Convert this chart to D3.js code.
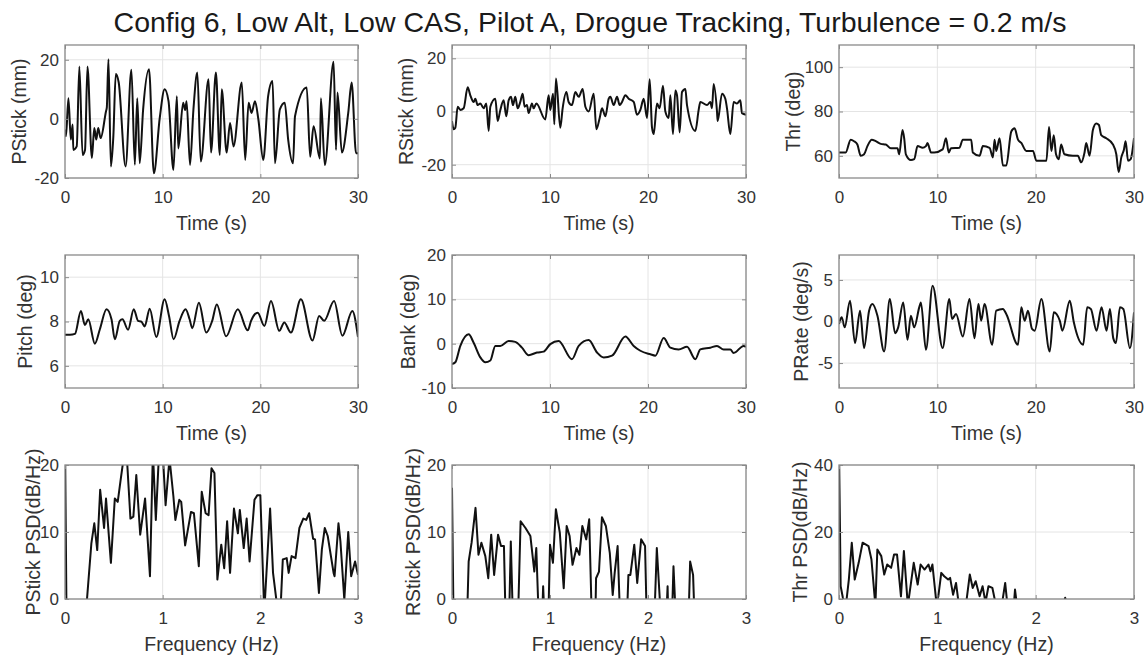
<!DOCTYPE html>
<html>
<head>
<meta charset="utf-8">
<script src="https://cdn.jsdelivr.net/npm/d3@7"></script>
<style>body{margin:0;background:#fff}</style>
</head>
<body>
<svg id="chart"></svg>
<script>
// ---- data ----
var title = "Config 6, Low Alt, Low CAS, Pilot A, Drogue Tracking, Turbulence = 0.2 m/s";

var timeTicks = [0, 10, 20, 30];
var freqTicks = [0, 1, 2, 3];

var pstickT = [0,0.1,0.35,0.6,0.78,0.85,1.2,1.47,1.8,2.05,2.3,2.75,3.0,3.2,3.4,3.65,4.2,4.28,4.45,4.7,4.95,5.2,5.5,6.2,6.8,7.15,7.4,7.65,8.0,8.6,9.1,9.7,10.2,10.6,11.1,11.45,11.6,12.1,12.3,12.45,12.8,13.15,13.55,13.9,14.7,14.95,15.45,15.85,16.05,16.55,16.9,17.25,18.1,18.45,18.8,19.1,19.45,19.8,20.3,20.8,21.25,21.5,22.0,22.5,22.85,23.35,23.55,24.75,25.1,25.45,26.1,26.2,26.6,27.5,27.75,27.9,28.35,29.0,29.35,29.8,30];
var pstickV = [-3.6,-5.9,7.0,-7.0,-1.9,-10.5,-9.3,17.7,-12.2,-10.5,17.7,-13.2,-3.1,-7.0,-3.1,-6.5,2.6,3.8,20.2,-16.1,-5.9,15.2,12.3,-16.1,16.6,-15.5,7.0,-15.0,3.2,16.8,-18.4,0.3,10.0,6.0,-17.3,7.7,-10.0,5.5,3.0,6.0,-15.6,3.2,15.7,-14.4,13.4,-11.4,15.7,-12.2,10.0,-11.4,-1.4,-9.3,12.3,-13.9,5.5,2.0,6.0,-0.2,-13.9,7.7,12.8,-15.0,3.2,5.5,-7.0,-15.0,0.9,10.6,-12.8,-2.5,-13.4,7.0,-15.6,19.3,-10.5,8.9,-11.4,2.0,12.3,-11.6,-11.6];

var rstickT = [0,0.17,0.34,0.58,0.85,1.19,1.6,1.87,2.21,2.38,2.62,2.89,3.23,3.5,3.74,3.91,4.42,4.66,4.93,5.27,5.54,5.78,6.02,6.22,6.46,6.7,6.97,7.21,7.41,7.65,7.82,8.16,8.33,8.61,9.52,9.86,10.03,10.31,10.44,10.61,11.05,11.29,11.67,11.9,12.24,12.59,12.93,13.33,13.61,13.95,14.46,14.73,15.07,15.31,15.65,15.99,16.16,16.5,16.84,17.11,17.35,17.69,18.03,18.54,18.88,19.22,19.56,19.9,20.17,20.41,20.58,20.92,21.19,21.53,21.77,22.11,22.28,22.55,22.79,22.96,23.23,23.47,23.81,23.98,24.83,25.17,25.34,26.02,26.36,26.53,26.7,27.04,27.11,27.55,27.89,28.06,28.4,28.74,29.08,29.42,29.59,30];
var rstickV = [-3.6,-6.7,-6.1,1.8,0.6,1.2,9.1,6.1,3.6,4.8,2.4,3.0,1.2,3.0,-7.3,1.8,4.8,-3.6,0.6,4.2,-1.8,4.2,5.5,2.4,5.5,1.2,3.6,6.7,1.8,2.4,-0.6,3.0,1.2,3.0,-3.0,6.1,0.6,6.7,-4.8,12.4,-6.1,1.2,7.3,3.6,2.4,7.3,5.5,8.5,1.8,0,6.7,-6.7,-2.4,1.2,-1.8,4.8,5.5,2.4,5.5,2.4,3.6,6.1,4.8,3.6,-1.2,0.6,4.8,-2.4,12.1,-6.1,-8.5,3.0,1.2,9.7,0,-2.4,6.1,-8.5,7.9,6.1,-7.9,7.3,8.5,2.4,-7.3,0.6,3.6,2.4,3.6,1.2,10.3,0,-3.6,6.7,4.8,1.2,-8.5,3.6,3.0,4.2,-0.6,-1.2];

var thrT = [0,0.68,1.19,1.53,1.87,2.21,2.55,2.89,3.33,3.74,4.25,4.76,5.27,5.95,6.12,6.46,6.63,6.8,7.31,7.65,7.99,8.5,8.84,9.01,9.18,9.35,9.69,10.54,10.88,11.16,11.39,12.24,12.59,13.44,13.61,14.29,14.63,15.31,15.65,15.82,15.99,16.33,16.67,17.01,17.52,17.86,18.2,18.54,19.05,19.73,20.07,21.09,21.36,21.6,21.84,22.07,22.35,22.59,22.93,23.78,24.29,24.63,24.97,25.14,25.48,25.82,26.16,26.43,26.67,27.18,27.86,28.2,28.44,28.71,28.98,29.15,29.39,29.66,30];
var thrV = [61.5,61.5,67.3,66.6,65.1,60.0,60.7,64.4,67.3,66.6,65.4,65.1,63.4,63.4,60.7,71.7,67.9,60.7,58.1,58.5,64.4,63.6,64.4,65.8,63.6,61.5,61.5,62.9,67.9,61.5,63.4,63.6,67.3,67.3,61.5,60.0,64.4,63.6,59.3,67.3,62.2,67.9,55.6,55.6,71.0,72.4,67.3,65.8,62.2,62.2,57.8,57.8,73.0,62.2,69.3,60.7,58.5,65.1,60.7,60.0,60.0,57.1,61.5,65.8,60.0,71.7,74.6,73.9,69.3,67.9,65.1,60.7,52.7,59.3,62.9,66.6,57.8,58.5,68.0];

var pitchT = [0,0.51,1.02,1.63,2.04,2.38,3.06,3.57,4.25,4.76,5.1,5.61,5.88,6.46,7.04,7.48,7.82,8.16,8.67,9.35,10.2,10.65,11.12,11.73,12.35,12.76,13.03,13.71,14.46,15.07,15.54,16.5,17.69,18.71,19.05,19.73,20.41,21.09,21.94,22.45,23.13,24.15,25.34,26.02,26.53,27.55,28.4,29.42,30];
var pitchV = [7.4,7.4,7.44,8.47,7.84,8.1,7.0,7.65,8.55,8.1,7.2,8.03,8.1,7.63,8.55,8.03,7.99,7.78,8.58,7.3,9.0,8.25,7.2,8.03,8.55,8.1,7.7,8.85,7.5,8.03,8.77,7.33,8.55,7.6,8.03,8.4,7.8,8.92,7.58,7.96,7.5,9.0,7.14,8.25,8.03,8.92,7.36,8.47,7.3];

var bankT = [0,0.34,0.85,1.7,2.21,2.89,3.4,3.91,4.42,4.93,5.78,6.46,7.14,7.82,8.67,9.35,10.03,10.88,12.24,12.93,13.95,14.8,15.48,16.33,17.69,18.54,19.22,20.24,20.75,21.6,22.28,23.13,23.98,24.83,25.34,26.36,27.04,27.72,28.4,28.74,29.76,30];
var bankV = [-4.6,-4.2,-0.5,2.1,0.2,-3.1,-4.2,-3.8,-0.5,-0.5,0.6,0.4,-0.9,-2.6,-2.0,-1.8,-0.1,0.6,-3.5,-0.5,0.8,-2.0,-3.1,-2.7,1.6,-0.5,-1.6,-2.4,-2.7,1.3,-0.9,-1.3,-0.7,-3.5,-1.3,-0.9,-0.5,-1.3,-1.3,-2.1,-0.5,-0.7];

var prateT = [0,0.27,0.58,1.12,1.63,2.14,2.55,3.06,3.4,3.91,4.59,5.17,5.71,6.02,6.53,6.97,7.31,7.65,8.16,8.33,8.84,9.52,10.54,11.22,11.5,11.9,12.59,13.27,13.78,14.18,14.46,14.8,15.58,15.99,16.67,17.01,18.2,18.54,18.88,19.22,19.63,19.9,20.58,21.43,21.84,22.45,22.72,23.47,23.88,24.83,25.24,25.61,26.19,26.7,27.21,27.55,27.89,28.16,28.57,28.91,29.59,30];
var prateV = [-0.3,0.5,-0.7,2.5,-2.6,1.3,-3.2,1.3,2.1,0.7,-3.6,2.7,-1.4,-0.7,2.3,-2.2,0.7,-0.7,1.7,2.3,-3.4,4.3,-3.2,2.7,0.3,0.9,-1.8,2.7,-2.0,2.1,0.1,2.1,-2.8,1.3,1.5,0.9,-2.8,1.7,0.1,1.3,-0.9,-1.1,2.7,-3.6,1.1,0.1,-1.1,2.5,-0.1,-2.8,1.7,1.5,-1.1,1.7,-1.1,1.5,-2.0,-2.6,1.7,1.5,-3.2,1.1];

var psdPstickF = [0,0.017,0.22,0.27,0.3,0.33,0.36,0.4,0.42,0.47,0.51,0.54,0.57,0.6,0.63,0.67,0.7,0.73,0.77,0.82,0.87,0.9,0.93,0.96,1.0,1.03,1.07,1.11,1.13,1.17,1.19,1.23,1.29,1.32,1.37,1.4,1.44,1.47,1.5,1.53,1.56,1.6,1.63,1.66,1.69,1.73,1.77,1.79,1.83,1.86,1.89,1.94,1.97,2.0,2.04,2.1,2.13,2.18,2.21,2.23,2.27,2.29,2.32,2.36,2.4,2.44,2.47,2.5,2.54,2.56,2.6,2.63,2.66,2.69,2.75,2.76,2.8,2.82,2.86,2.9,2.93,2.97,3.0];
var psdPstickV = [24,-5,-1,8.3,11.3,7.3,16.3,10.6,15.0,5.4,15.0,14.5,17.8,21,22,12.0,12.3,18.5,9.6,15.0,3.4,22,11.8,21,22,14.0,21,15.3,11.8,14.8,14.5,8.0,13.0,12.8,4.9,16.0,12.8,12.5,19.5,18.8,2.9,8.1,4.6,11.6,3.9,13.5,9.8,13.3,7.6,12.0,5.6,14.8,15.5,15.5,-2,13.5,3.9,-2,-0.5,5.9,6.1,3.9,6.4,6.1,10.6,12.0,11.8,12.8,9.0,8.9,0.9,7.4,10.6,9.4,3.9,3.4,11.3,8.6,-0.1,10.0,3.4,5.6,3.6];

var psdRstickF = [0,0.017,0.15,0.17,0.2,0.24,0.27,0.3,0.34,0.37,0.4,0.43,0.47,0.5,0.53,0.55,0.58,0.6,0.625,0.67,0.7,0.75,0.8,0.84,0.86,0.89,0.915,0.93,0.95,0.98,1.0,1.03,1.06,1.1,1.14,1.17,1.2,1.23,1.27,1.3,1.33,1.37,1.4,1.43,1.46,1.47,1.5,1.53,1.57,1.61,1.64,1.66,1.69,1.72,1.78,1.8,1.82,1.86,1.89,1.93,1.97,1.99,2.06,2.09,2.14,2.18,2.2,2.21,2.24,2.26,2.29,2.41,2.43,2.46,2.48,3.0];
var psdRstickV = [16.6,-5,-5,5.6,8.4,13.6,6.6,8.4,6.4,3.1,9.6,3.6,9.6,7.9,7.9,-5,-5,8.6,-5,-5,11.6,10.6,9.4,4.1,7.6,-5,-5,1.9,-5,-5,8.1,5.4,13.4,9.9,1.6,10.9,9.4,5.1,7.6,6.6,10.9,8.9,11.9,-5,-5,3.1,4.1,12.2,10.9,6.9,0.6,3.9,7.9,-5,-5,3.6,3.6,8.1,2.4,8.9,7.9,-5,-5,7.6,-5,-5,1.9,-5,-5,4.9,-5,-5,5.6,3.6,-5,-5];

var psdThrF = [0,0.017,0.04,0.07,0.1,0.13,0.16,0.2,0.24,0.27,0.3,0.33,0.37,0.39,0.43,0.46,0.49,0.53,0.56,0.59,0.63,0.66,0.7,0.76,0.8,0.83,0.87,0.91,0.93,0.95,0.99,1.01,1.04,1.07,1.11,1.13,1.16,1.19,1.22,1.29,1.33,1.36,1.39,1.43,1.46,1.49,1.52,1.56,1.59,1.66,1.69,1.71,1.78,1.79,1.81,2.28,2.3,2.32,3.0];
var psdThrV = [45,3.8,0.3,-2,5.8,16.8,5.8,10.8,16.8,16.3,15.8,11.8,-2,14.8,12.8,7.3,10.3,9.3,13.3,13.3,0.8,14.3,-2,10.8,4.3,10.3,8.8,10.3,8.3,10.3,-1,0.8,7.8,6.8,5.8,6.3,1.3,4.8,-2,-2,7.3,3.3,5.3,0.8,3.8,-1,3.8,3.3,-1,-1,4.8,-1,-1,2.8,-2,-2,0.4,-2,-2];

// ---- layout ----
var width = 1146, height = 656;
var font = "'Liberation Sans', Arial, Helvetica, sans-serif";
var colX = [[65, 358], [452, 746], [839, 1134]];
var rowY = [[45, 178], [255, 388], [465, 599]];

var panels = [
    {col: 0, row: 0, t: pstickT, v: pstickV, xd: [0, 30], xt: timeTicks, yd: [-20, 25], yt: [-20, 0, 20], yl: "PStick (mm)", xl: "Time (s)", off: 46, curve: d3.curveMonotoneX},
    {col: 1, row: 0, t: rstickT, v: rstickV, xd: [0, 30], xt: timeTicks, yd: [-25, 25], yt: [-20, 0, 20], yl: "RStick (mm)", xl: "Time (s)", off: 46, curve: d3.curveMonotoneX},
    {col: 2, row: 0, t: thrT, v: thrV, xd: [0, 30], xt: timeTicks, yd: [50, 110], yt: [60, 80, 100], yl: "Thr (deg)", xl: "Time (s)", off: 46, curve: d3.curveMonotoneX},
    {col: 0, row: 1, t: pitchT, v: pitchV, xd: [0, 30], xt: timeTicks, yd: [5, 11], yt: [6, 8, 10], yl: "Pitch (deg)", xl: "Time (s)", off: 40, curve: d3.curveMonotoneX},
    {col: 1, row: 1, t: bankT, v: bankV, xd: [0, 30], xt: timeTicks, yd: [-10, 20], yt: [-10, 0, 10, 20], yl: "Bank (deg)", xl: "Time (s)", off: 44, curve: d3.curveMonotoneX},
    {col: 2, row: 1, t: prateT, v: prateV, xd: [0, 30], xt: timeTicks, yd: [-8, 8], yt: [-5, 0, 5], yl: "PRate (deg/s)", xl: "Time (s)", off: 38, curve: d3.curveMonotoneX},
    {col: 0, row: 2, t: psdPstickF, v: psdPstickV, xd: [0, 3], xt: freqTicks, yd: [0, 20], yt: [0, 10, 20], yl: "PStick PSD(dB/Hz)", xl: "Frequency (Hz)", off: 32, curve: d3.curveLinear},
    {col: 1, row: 2, t: psdRstickF, v: psdRstickV, xd: [0, 3], xt: freqTicks, yd: [0, 20], yt: [0, 10, 20], yl: "RStick PSD(dB/Hz)", xl: "Frequency (Hz)", off: 39, curve: d3.curveLinear},
    {col: 2, row: 2, t: psdThrF, v: psdThrV, xd: [0, 3], xt: freqTicks, yd: [0, 40], yt: [0, 20, 40], yl: "Thr PSD(dB/Hz)", xl: "Frequency (Hz)", off: 39, curve: d3.curveLinear}
];

var svg = d3.select("#chart")
    .attr("width", width)
    .attr("height", height)
    .style("font-family", font);

svg.append("rect").attr("width", width).attr("height", height).attr("fill", "#fff");

// overall title
svg.append("text")
    .attr("x", 590)
    .attr("y", 32)
    .attr("text-anchor", "middle")
    .style("font-size", "28.5px")
    .attr("fill", "#1a1a1a")
    .text(title);

// plain hyphen minus, as in the original figure
var plain = function (d) { return String(d); };

panels.forEach(function (p, i) {
    var x0 = colX[p.col][0], x1 = colX[p.col][1];
    var y0 = rowY[p.row][0], y1 = rowY[p.row][1];
    var x = d3.scaleLinear().domain(p.xd).range([x0, x1]);
    var y = d3.scaleLinear().domain(p.yd).range([y1, y0]);
    var g = svg.append("g");

    // grid
    g.selectAll(null).data(p.xt).enter().append("line")
        .attr("x1", d => x(d)).attr("x2", d => x(d))
        .attr("y1", y0).attr("y2", y1)
        .attr("stroke", "#e4e4e4").attr("stroke-width", 1);
    g.selectAll(null).data(p.yt).enter().append("line")
        .attr("x1", x0).attr("x2", x1)
        .attr("y1", d => y(d)).attr("y2", d => y(d))
        .attr("stroke", "#e4e4e4").attr("stroke-width", 1);

    // clip to the axes box
    svg.append("clipPath").attr("id", "clip" + i)
        .append("rect")
        .attr("x", x0).attr("y", y0)
        .attr("width", x1 - x0).attr("height", y1 - y0);

    var pts = p.t.map(function (t, k) { return [t, p.v[k]]; });
    g.append("path")
        .datum(pts)
        .attr("clip-path", "url(#clip" + i + ")")
        .attr("fill", "none")
        .attr("stroke", "#111")
        .attr("stroke-width", 2)
        .attr("stroke-linejoin", "round")
        .attr("d", d3.line()
            .x(d => x(d[0]))
            .y(d => y(d[1]))
            .curve(p.curve));

    // axes (MATLAB style: inward ticks on all four sides)
    var styleAxis = function (sel) {
        sel.select(".domain").remove();
        sel.selectAll(".tick line").attr("stroke", "#8a8a8a");
        sel.selectAll(".tick text").attr("fill", "#333").style("font-size", "17px").style("font-family", font);
    };
    g.append("g").attr("transform", "translate(0," + y1 + ")")
        .call(d3.axisBottom(x).tickValues(p.xt).tickSize(-4).tickPadding(13).tickFormat(plain))
        .call(styleAxis);
    g.append("g").attr("transform", "translate(0," + y0 + ")")
        .call(d3.axisTop(x).tickValues(p.xt).tickSize(-4).tickFormat(""))
        .call(styleAxis);
    g.append("g").attr("transform", "translate(" + x0 + ",0)")
        .call(d3.axisLeft(y).tickValues(p.yt).tickSize(-4).tickPadding(6).tickFormat(plain))
        .call(styleAxis);
    g.append("g").attr("transform", "translate(" + x1 + ",0)")
        .call(d3.axisRight(y).tickValues(p.yt).tickSize(-4).tickFormat(""))
        .call(styleAxis);

    // box
    g.append("rect")
        .attr("x", x0).attr("y", y0)
        .attr("width", x1 - x0).attr("height", y1 - y0)
        .attr("fill", "none")
        .attr("stroke", "#8a8a8a")
        .attr("stroke-width", 1.3);

    // labels
    g.append("text")
        .attr("x", (x0 + x1) / 2)
        .attr("y", y1 + 45)
        .attr("dy", "0.35em")
        .attr("text-anchor", "middle")
        .attr("fill", "#333")
        .style("font-size", "19.5px")
        .text(p.xl);
    g.append("text")
        .attr("transform", "translate(" + (x0 - p.off) + "," + ((y0 + y1) / 2) + ") rotate(-90)")
        .attr("dy", "0.35em")
        .attr("text-anchor", "middle")
        .attr("fill", "#333")
        .style("font-size", "19.5px")
        .text(p.yl);
});
</script>
</body>
</html>
